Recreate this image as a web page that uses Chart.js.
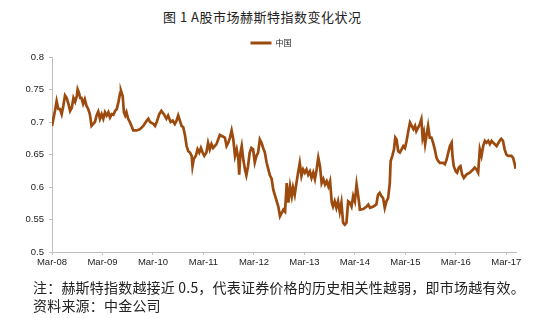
<!DOCTYPE html>
<html>
<head>
<meta charset="utf-8">
<script src="https://cdn.jsdelivr.net/npm/chart.js@4.4.1/dist/chart.umd.min.js"></script>
<style>
body{margin:0;background:#fff;}
#wrap{position:relative;width:550px;height:318px;background:#fff;overflow:hidden;}
#chart{position:absolute;left:0;top:0;}
.cap{position:absolute;white-space:nowrap;color:#222;font-family:"Noto Sans CJK SC",sans-serif;}
#title{left:163px;top:8px;font-size:13px;line-height:18px;letter-spacing:0.5px;}
#note{left:33px;top:278px;font-size:14px;line-height:18px;letter-spacing:0.2px;}
#src{left:33px;top:296px;font-size:14px;line-height:18px;letter-spacing:0.2px;}
</style>
</head>
<body>
<div id="wrap">
  <div id="title" class="cap">图 1 A股市场赫斯特指数变化状况</div>
  <canvas id="chart" width="550" height="318"></canvas>
  <div id="note" class="cap">注：赫斯特指数越接近 0.5，代表证券价格的历史相关性越弱，即市场越有效。</div>
  <div id="src" class="cap">资料来源：中金公司</div>
</div>
<script>
/* 赫斯特指数 (中国), x = months since Mar-08 */

const seriesName = "中国";

const months = [
  0,0.3,0.7,1.1,1.5,1.9,2.3,2.7,3.1,3.5,
  3.9,4.3,4.7,5.1,5.5,5.9,6.1,6.4,6.7,7.0,
  7.4,7.8,8.2,8.6,9.0,9.4,9.8,10.2,10.6,11.0,
  11.4,11.8,12.2,12.6,13.0,13.4,13.8,14.2,14.6,15.0,
  15.4,15.8,16.2,16.4,16.8,17.1,17.4,17.7,18.1,18.5,
  18.9,19.3,20.1,20.9,21.7,22.5,22.9,23.3,24.1,24.5,
  24.9,25.5,26.0,26.6,27.2,27.6,28.2,28.7,29.2,29.6,
  30.0,30.4,30.8,31.2,31.6,32.0,32.4,32.8,33.2,33.4,
  33.7,34.2,34.6,35.0,35.4,35.8,36.2,36.7,37.1,37.5,
  37.9,38.3,39.1,39.5,39.9,40.5,41.1,41.5,41.9,42.3,
  42.7,43.1,43.5,43.9,44.3,44.5,44.8,45.1,45.5,45.9,
  46.2,46.6,47.0,47.4,47.8,48.2,48.6,49.0,49.4,49.8,
  50.2,50.6,51.0,51.4,51.8,52.2,52.6,53.0,53.8,54.2,
  54.6,55.0,55.4,55.8,56.2,56.6,57.0,57.3,57.7,58.1,
  58.5,58.9,59.3,59.7,60.1,60.5,60.9,61.3,61.7,62.1,
  62.5,62.9,63.3,63.7,64.1,64.5,64.9,65.3,65.7,66.1,
  66.5,66.8,67.2,67.6,68.0,68.4,68.8,69.2,69.6,70.0,
  70.4,70.8,71.2,71.6,72.0,72.4,72.8,73.2,74.0,74.8,
  75.2,75.6,76.4,77.1,77.5,77.9,78.3,78.7,79.1,79.5,
  79.9,80.3,80.5,80.9,81.3,81.6,81.9,82.3,82.7,83.1,
  83.5,83.9,84.3,84.7,85.1,85.5,85.9,86.3,86.6,87.0,
  87.4,87.8,88.1,88.4,88.7,89.0,89.4,89.8,90.2,90.6,
  91.0,91.4,91.8,92.2,93.0,93.4,93.8,94.2,94.6,95.0,
  95.2,95.5,96.0,96.3,96.7,97.1,97.5,97.9,98.5,99.3,
  100.1,100.5,100.9,101.3,101.7,102.1,102.5,102.9,103.3,103.7,
  104.1,104.5,104.9,105.7,106.4,106.8,107.2,107.6,108.0,108.4,
  109.2,109.6,110.0,110.2
];

const hurst = [
  .694,.704,.717,.732,.720,.720,.712,.725,.741,.737,
  .728,.717,.722,.737,.731,.740,.750,.745,.737,.737,
  .728,.735,.725,.720,.712,.694,.697,.700,.710,.716,
  .705,.712,.705,.715,.710,.715,.707,.712,.711,.717,
  .720,.731,.745,.748,.740,.715,.710,.715,.705,.700,
  .694,.687,.687,.689,.694,.702,.705,.700,.697,.694,
  .700,.712,.717,.712,.705,.710,.700,.702,.697,.702,
  .710,.702,.694,.692,.680,.663,.655,.653,.648,.632,
  .643,.648,.658,.653,.660,.653,.648,.653,.668,.658,
  .666,.660,.666,.673,.680,.678,.676,.663,.668,.676,
  .687,.673,.648,.658,.643,.619,.653,.663,.641,.626,
  .618,.632,.653,.660,.658,.638,.648,.653,.673,.668,
  .660,.653,.638,.628,.618,.613,.596,.587,.570,.555,
  .560,.565,.562,.606,.576,.601,.586,.599,.588,.606,
  .622,.637,.617,.627,.622,.627,.619,.624,.614,.622,
  .612,.627,.645,.632,.606,.612,.604,.609,.601,.609,
  .576,.570,.578,.568,.578,.562,.576,.545,.542,.545,
  .578,.576,.570,.586,.578,.604,.586,.565,.566,.570,
  .573,.568,.570,.573,.588,.591,.586,.583,.568,.578,
  .583,.606,.640,.648,.658,.676,.673,.655,.653,.658,
  .663,.660,.671,.686,.699,.694,.689,.694,.686,.691,
  .696,.704,.676,.684,.666,.678,.694,.676,.676,.668,
  .658,.645,.640,.637,.637,.635,.642,.653,.663,.668,
  .648,.632,.624,.622,.630,.632,.619,.614,.619,.622,
  .627,.630,.627,.622,.658,.648,.663,.671,.668,.671,
  .666,.671,.668,.663,.671,.674,.671,.658,.650,.648,
  .648,.645,.635,.628
];

const xTickLabels = ["Mar-08","Mar-09","Mar-10","Mar-11","Mar-12","Mar-13","Mar-14","Mar-15","Mar-16","Mar-17"];
const yTickLabels = ["0.5","0.55","0.6","0.65","0.7","0.75","0.8"];

const lineColor = "#9c4a0e";
const axisColor = "#c0c0c0";
const tickFont = {family:"'Liberation Sans', Arial, sans-serif", size:9.5};

const points = months.map((m,i)=>({x:m, y:hurst[i]}));

new Chart(document.getElementById("chart"),{
    type:'line',
    data:{
        datasets:[{
            label:seriesName,
            data:points,
            borderColor:lineColor,
            backgroundColor:lineColor,
            borderWidth:2.7,
            pointRadius:0,
            tension:0
        }]
    },
    options:{
        responsive:false,
        animation:false,
        devicePixelRatio:1,
        // legend box spans 26..516 so it centres where the original does
        layout:{autoPadding:false, padding:{top:30,right:34,bottom:48,left:26}},
        plugins:{
            title:{display:false},
            tooltip:{enabled:false},
            legend:{
                display:true,
                position:'top',
                labels:{
                    color:'#222',
                    font:{family:"'Noto Sans CJK SC', sans-serif", size:8},
                    boxWidth:21,
                    boxHeight:3,
                    padding:9,
                    generateLabels:function(chart){
                        const items = Chart.defaults.plugins.legend.labels.generateLabels(chart);
                        items.forEach(it=>{ it.lineWidth = 0; });
                        return items;
                    }
                }
            }
        },
        scales:{
            x:{
                type:'linear',
                min:0,
                max:110.3,
                afterFit:function(s){ s.height = 18; },
                afterBuildTicks:function(s){
                    s.ticks = xTickLabels.map((t,i)=>({value:i*12}));
                },
                ticks:{
                    autoSkip:false,
                    maxRotation:0,
                    color:'#222',
                    font:tickFont,
                    padding:2,
                    callback:function(v){ return xTickLabels[Math.round(v/12)]; }
                },
                grid:{display:true, drawOnChartArea:false, drawTicks:true, tickLength:3, color:axisColor},
                border:{display:true, color:axisColor}
            },
            y:{
                min:0.5,
                max:0.8,
                afterFit:function(s){ s.width = 26; },
                afterBuildTicks:function(s){
                    s.ticks = yTickLabels.map(t=>({value:parseFloat(t)}));
                },
                ticks:{
                    color:'#222',
                    font:tickFont,
                    padding:5,
                    callback:function(v){
                        const i = yTickLabels.findIndex(t=>Math.abs(parseFloat(t)-v)<1e-9);
                        return i>=0 ? yTickLabels[i] : '';
                    }
                },
                grid:{display:true, drawOnChartArea:false, drawTicks:true, tickLength:3, color:axisColor},
                border:{display:true, color:axisColor}
            }
        }
    }
});
</script>
</body>
</html>
